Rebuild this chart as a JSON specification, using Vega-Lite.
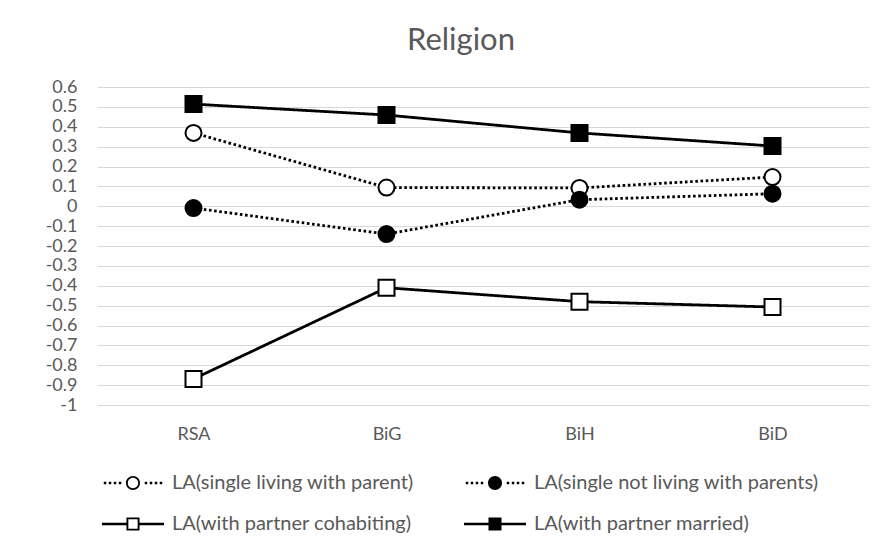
{
  "$schema": "https://vega.github.io/schema/vega-lite/v6.json",
  "width": 772,
  "height": 318,
  "autosize": {"type": "none"},
  "padding": {"left": 97, "top": 87, "right": 27, "bottom": 131},
  "background": "white",
  "config": {
    "font": "Lato",
    "view": {"stroke": null},
    "axis": {"labelColor": "#595959", "labelFont": "Lato", "labelFontSize": 18, "domain": false, "ticks": false, "title": null},
    "legend": {"labelFont": "Lato", "labelFontSize": 20, "labelColor": "#595959"}
  },
  "title": {
    "text": "Religion",
    "font": "Lato",
    "fontSize": 31,
    "fontWeight": "normal",
    "color": "#595959",
    "anchor": "middle",
    "baseline": "bottom",
    "offset": -10,
    "dx": -22
  },
  "data": {
    "values": [
      {"series": "LA(single living with parent)", "region": "RSA", "value": 0.369},
      {"series": "LA(single living with parent)", "region": "BiG", "value": 0.094},
      {"series": "LA(single living with parent)", "region": "BiH", "value": 0.092},
      {"series": "LA(single living with parent)", "region": "BiD", "value": 0.147},
      {"series": "LA(single not living with parents)", "region": "RSA", "value": -0.009},
      {"series": "LA(single not living with parents)", "region": "BiG", "value": -0.14},
      {"series": "LA(single not living with parents)", "region": "BiH", "value": 0.033},
      {"series": "LA(single not living with parents)", "region": "BiD", "value": 0.063},
      {"series": "LA(with partner cohabiting)", "region": "RSA", "value": -0.869},
      {"series": "LA(with partner cohabiting)", "region": "BiG", "value": -0.41},
      {"series": "LA(with partner cohabiting)", "region": "BiH", "value": -0.48},
      {"series": "LA(with partner cohabiting)", "region": "BiD", "value": -0.507},
      {"series": "LA(with partner married)", "region": "RSA", "value": 0.514},
      {"series": "LA(with partner married)", "region": "BiG", "value": 0.459},
      {"series": "LA(with partner married)", "region": "BiH", "value": 0.369},
      {"series": "LA(with partner married)", "region": "BiD", "value": 0.303}
    ]
  },
  "encoding": {
    "x": {
      "field": "region",
      "type": "nominal",
      "sort": ["RSA", "BiG", "BiH", "BiD"],
      "scale": {"type": "point", "padding": 0.5},
      "axis": {"labelAngle": 0, "labelPadding": 20, "grid": false}
    },
    "y": {
      "field": "value",
      "type": "quantitative",
      "scale": {"domain": [-1, 0.6], "nice": false, "zero": false},
      "axis": {"values": [-1, -0.9, -0.8, -0.7, -0.6, -0.5, -0.4, -0.3, -0.2, -0.1, 0, 0.1, 0.2, 0.3, 0.4, 0.5, 0.6], "labelExpr": "replace(format(datum.value, '.1~f'), '\u2212', '-')", "labelOverlap": false, "labelPadding": 20, "gridColor": "#d9d9d9", "gridWidth": 1.2, "labelBaseline": "middle"}
    }
  },
  "resolve": {"scale": {"shape": "independent"}, "legend": {"shape": "independent"}},
  "layer": [
    {
      "mark": {"type": "line", "color": "black", "strokeWidth": 2.8, "strokeCap": "butt"},
      "encoding": {
        "detail": {"field": "series"},
        "strokeDash": {
          "field": "series",
          "type": "nominal",
          "scale": {"range": [[2.6, 2.6], [2.6, 2.6], [1, 0], [1, 0]]},
          "legend": null
        }
      }
    },
    {
      "mark": {"type": "point", "filled": true, "stroke": "black", "strokeWidth": 2, "size": 256, "opacity": 1},
      "encoding": {
        "fill": {
          "field": "series",
          "type": "nominal",
          "scale": {"range": ["white", "black", "white", "black"]},
          "legend": null
        },
        "shape": {
          "field": "series",
          "type": "nominal",
          "scale": {"range": ["circle", "circle", "square", "square"]},
          "legend": null
        }
      }
    },
    {
      "mark": {"type": "point", "filled": true, "color": "black", "size": 0, "opacity": 1, "strokeWidth": 0},
      "encoding": {
        "shape": {
          "field": "series",
          "type": "nominal",
          "scale": {
            "domain": ["LA(single living with parent)", "LA(single not living with parents)", "LA(with partner cohabiting)", "LA(with partner married)"],
            "range": [
              "M-0.943,-0.04H-0.863V0.04H-0.943Z M-0.782,-0.04H-0.702V0.04H-0.782Z M-0.621,-0.04H-0.541V0.04H-0.621Z M-0.459,-0.04H-0.379V0.04H-0.459Z M0.379,-0.04H0.459V0.04H0.379Z M0.541,-0.04H0.621V0.04H0.541Z M0.702,-0.04H0.782V0.04H0.702Z M0.863,-0.04H0.943V0.04H0.863Z M-0.226,0A0.226,0.226 0 1,1 0.226,0A0.226,0.226 0 1,1 -0.226,0Z M-0.168,0A0.168,0.168 0 1,0 0.168,0A0.168,0.168 0 1,0 -0.168,0Z",
              "M-0.943,-0.04H-0.863V0.04H-0.943Z M-0.782,-0.04H-0.702V0.04H-0.782Z M-0.621,-0.04H-0.541V0.04H-0.621Z M-0.459,-0.04H-0.379V0.04H-0.459Z M0.379,-0.04H0.459V0.04H0.379Z M0.541,-0.04H0.621V0.04H0.541Z M0.702,-0.04H0.782V0.04H0.702Z M0.863,-0.04H0.943V0.04H0.863Z M-0.226,0A0.226,0.226 0 1,1 0.226,0A0.226,0.226 0 1,1 -0.226,0Z",
              "M-1,-0.04H-0.21V0.04H-1Z M0.21,-0.04H1V0.04H0.21Z M-0.21,-0.21H0.21V0.21H-0.21Z M-0.15,-0.15V0.15H0.15V-0.15Z",
              "M-1,-0.04H1V0.04H-1Z M-0.21,-0.21H0.21V0.21H-0.21Z"
            ]
          },
          "legend": {
            "title": null,
            "orient": "none",
            "legendX": 5,
            "legendY": 365,
            "columns": 2,
            "direction": "horizontal",
            "columnPadding": 50,
            "rowPadding": -22,
            "padding": 0,
            "symbolSize": 3844,
            "symbolFillColor": "black",
            "symbolStrokeWidth": 0,
            "symbolOpacity": 1,
            "labelOffset": 8,
            "gridAlign": "each",
            "labelLimit": 400,
            "encode": {
              "symbols": {
                "fill": {"value": "black"},
                "fillOpacity": {"value": 1},
                "stroke": {"value": "transparent"},
                "strokeWidth": {"value": 0},
                "opacity": {"value": 1},
                "size": {"value": 3844}
              }
            }
          }
        }
      }
    }
  ]
}
